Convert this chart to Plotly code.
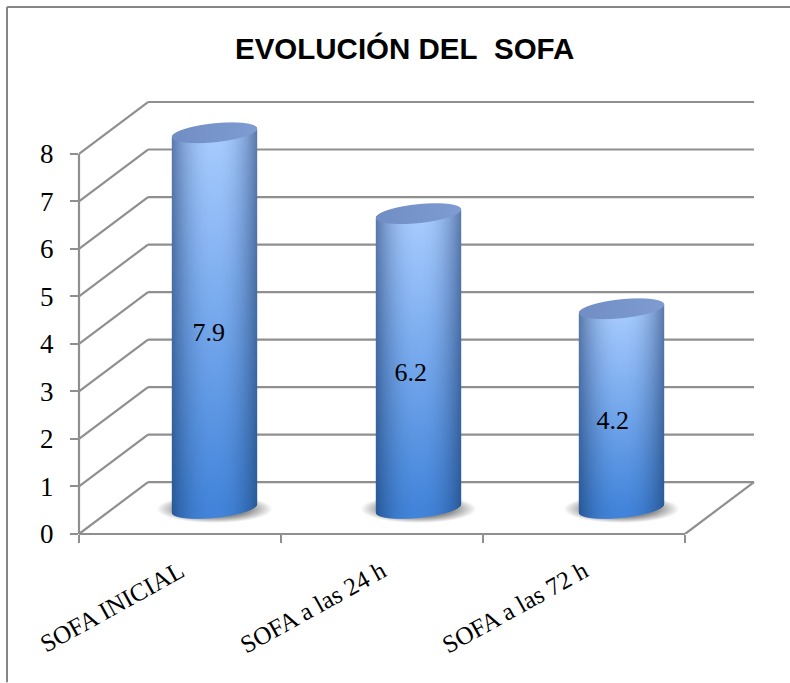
"""
Evolución del SOFA: columnas cilíndricas con aspecto 3D
"""
import numpy as np
import plotly.graph_objects as go

categories = ["SOFA INICIAL", "SOFA a las 24 h", "SOFA a las 72 h"]
sofa_values = [7.9, 6.2, 4.2]
y_ticks = [0, 1, 2, 3, 4, 5, 6, 7, 8]
title_text = "EVOLUCIÓN DEL\u00a0\u00a0SOFA"

W, H = 790, 683
LEFT, RIGHT, TOP, BOTTOM = 79, 760, 98, 534.5
PX_X = 202.0    # pixeles por categoria
PX_Y = 47.56    # pixeles por unidad SOFA
DEPTH_X = 69 / PX_X
DEPTH_Y = 52 / PX_Y
BAR_DRIFT = 1.7 / PX_X  # las columnas van un poco mas separadas que las marcas
GREY = "#8f8f8f"
SERIF = "Liberation Serif"


def lerp(a, b, t):
    return a + (b - a) * t


def cylinder_rgba(value):
    """Imagen RGBA de un cilindro, un pixel de imagen por pixel de pantalla"""
    a, b, tilt = 42.7, 9.5, 4.2
    height = value * PX_Y
    xs = np.arange(-62, 63, 1.0)
    us = np.arange(-18, height + 18, 1.0)
    xx, uu = np.meshgrid(xs, us)
    t = xx / a
    root = np.sqrt(np.clip(1 - t ** 2, 0, 1))
    inside = np.clip((1 - np.abs(t)) * a + 0.5, 0, 1)

    low_edge = tilt * t - b * root
    high_edge = height + tilt * t + b * root
    front_edge = height + tilt * t - b * root

    body = inside * np.clip(uu - low_edge + 0.5, 0, 1) * np.clip(front_edge - uu + 0.5, 0, 1)
    cap = inside * np.clip(uu - front_edge + 0.5, 0, 1) * np.clip(high_edge - uu + 0.5, 0, 1)

    # sombra difusa sobre el suelo
    r = np.sqrt((xx / 58) ** 2 + ((uu + 0.5) / 14) ** 2)
    shadow = np.clip((1 - r) / 0.4, 0, 1) * 0.75

    w = np.clip(uu / height, 0, 1)[..., None]
    e = (np.abs(t) ** 2.2)[..., None].clip(0, 1)
    center = lerp(np.array([66, 132, 218.0]), np.array([168, 204, 255.0]), w)
    edge = lerp(np.array([40, 88, 150.0]), np.array([90, 120, 170.0]), w)
    body_rgb = lerp(center, edge, e)
    cap_rgb = lerp(np.array([112, 142, 196.0]), np.array([126, 156, 210.0]), ((t + 1) / 2)[..., None].clip(0, 1))
    shadow_rgb = np.array([105, 105, 105.0])

    solid = body + cap
    rgb = (body[..., None] * body_rgb + cap[..., None] * cap_rgb
           + ((1 - solid) * shadow)[..., None] * shadow_rgb)
    alpha = solid + (1 - solid) * shadow
    rgb = rgb / np.maximum(alpha, 1e-6)[..., None]
    return np.round(np.dstack([rgb, alpha]), 3), xs, us


fig = go.Figure()

# cilindros
for i, value in enumerate(sofa_values):
    rgba, xs, us = cylinder_rgba(value)
    fig.add_trace(go.Image(
        z=rgba.tolist(),
        colormodel="rgba",
        x0=i + i * BAR_DRIFT + DEPTH_X / 2 + xs[0] / PX_X,
        dx=1 / PX_X,
        y0=DEPTH_Y / 2 + us[0] / PX_Y,
        dy=1 / PX_Y,
        hoverinfo="skip",
    ))

# etiquetas de valor
fig.add_trace(go.Scatter(
    x=[i + DEPTH_X / 2 - 0.028 for i in range(len(sofa_values))],
    y=[v / 2 + 0.25 for v in sofa_values],
    mode="text",
    text=[str(v) for v in sofa_values],
    textfont=dict(family=SERIF, size=26, color="#000000"),
    hoverinfo="skip",
    showlegend=False,
))

x_start = -0.5
x_end = len(categories) - 0.5
x_back_end = x_end + DEPTH_X


def wall_line(**kwargs):
    fig.add_shape(type="line", layer="below", line=dict(color=GREY, width=2.2), **kwargs)


# paredes y suelo
for tick in y_ticks:
    wall_line(x0=x_start, x1=x_start + DEPTH_X, y0=tick, y1=tick + DEPTH_Y, xref="x", yref="y")
    wall_line(x0=x_start + DEPTH_X, x1=x_back_end, y0=tick + DEPTH_Y, y1=tick + DEPTH_Y, xref="x", yref="y")
wall_line(x0=x_end, x1=x_back_end, y0=0, y1=DEPTH_Y, xref="x", yref="y")
wall_line(x0=0, x1=0, y0=0, y1=y_ticks[-1], xref="paper", yref="y")
wall_line(x0=x_start, x1=x_end, y0=0, y1=0, xref="x", yref="paper")

# marco exterior del grafico
plot_w = RIGHT - LEFT
plot_h = BOTTOM - TOP
fig.add_shape(type="line", xref="paper", yref="paper", line=dict(color="#868686", width=2),
              x0=(7 - LEFT) / plot_w, x1=(W - LEFT) / plot_w,
              y0=(BOTTOM - 7) / plot_h, y1=(BOTTOM - 7) / plot_h)
fig.add_shape(type="line", xref="paper", yref="paper", line=dict(color="#868686", width=2),
              x0=(7 - LEFT) / plot_w, x1=(7 - LEFT) / plot_w,
              y0=(BOTTOM - 7) / plot_h, y1=(BOTTOM - H) / plot_h)

fig.add_annotation(
    text=f"<b>{title_text}</b>",
    xref="paper", yref="paper",
    x=(404 - LEFT) / plot_w, y=(BOTTOM - 48) / plot_h,
    xanchor="center", yanchor="middle",
    showarrow=False,
    font=dict(family="Liberation Sans", size=29.5, color="#000000"),
)

fig.update_layout(
    width=W,
    height=H,
    margin=dict(l=LEFT, r=W - RIGHT, t=TOP, b=H - BOTTOM, pad=0),
    paper_bgcolor="white",
    plot_bgcolor="white",
    showlegend=False,
    xaxis=dict(
        range=[x_start, x_start + plot_w / PX_X],
        tickvals=list(range(len(categories))),
        ticktext=categories,
        tickangle=-29,
        ticks="",
        ticklabelstandoff=17,
        showgrid=False,
        zeroline=False,
        tickfont=dict(family=SERIF, size=25, color="#000000"),
        minor=dict(tickvals=[x_start + i for i in range(len(categories) + 1)],
                   ticks="outside", ticklen=8, tickwidth=2, tickcolor=GREY, showgrid=False),
    ),
    yaxis=dict(
        range=[0, plot_h / PX_Y],
        scaleanchor=False,
        tickvals=y_ticks,
        ticks="outside",
        ticklen=8,
        tickwidth=2,
        tickcolor=GREY,
        ticklabelstandoff=11,
        showgrid=False,
        zeroline=False,
        tickfont=dict(family=SERIF, size=27, color="#000000"),
    ),
)

# sin el margen por defecto de la pagina
fig.write_html("out.html", config=dict(displayModeBar=False),
               post_script="document.body.style.margin = '0';")
